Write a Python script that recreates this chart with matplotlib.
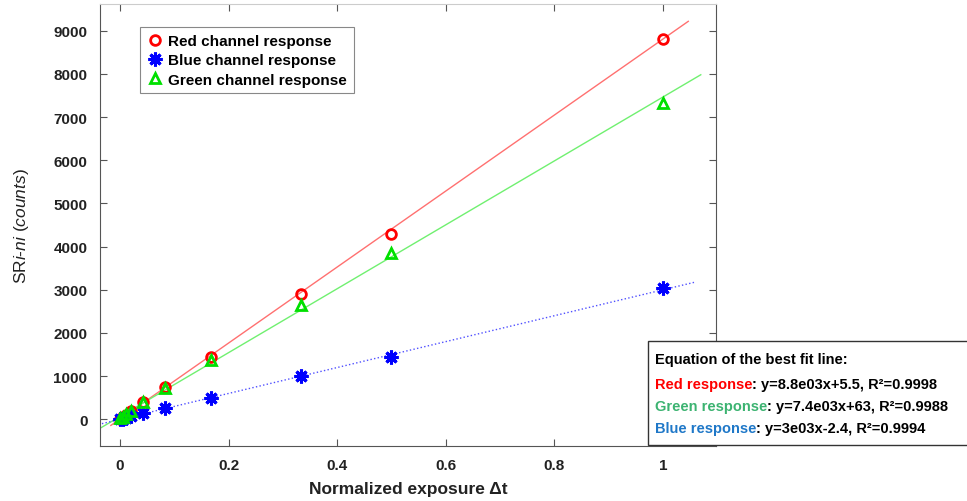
import matplotlib

matplotlib.use("Agg")
import matplotlib.pyplot as plt  # noqa: E402
import numpy as np  # noqa: E402
from matplotlib.patches import Rectangle  # noqa: E402

plt.rcParams["font.family"] = ["Liberation Sans", "DejaVu Sans"]
plt.rcParams["mathtext.fontset"] = "custom"
plt.rcParams["mathtext.rm"] = "Liberation Sans"
plt.rcParams["mathtext.it"] = "Liberation Sans:italic"

# normalized exposure values
exposure = [0, 1 / 192, 1 / 96, 1 / 48, 1 / 24, 1 / 12, 1 / 6, 1 / 3, 1 / 2, 1]
red_counts = [10, 50, 100, 200, 400, 750, 1450, 2900, 4280, 8820]
green_counts = [30, 60, 110, 190, 390, 720, 1380, 2640, 3840, 7330]
blue_counts = [0, 15, 30, 70, 140, 250, 490, 1010, 1440, 3030]

# best fit lines: slope, intercept, x start, x end
red_fit = (8.8e3, 5.5, -0.017, 1.047)
green_fit = (7.4e3, 63, -0.04, 1.07)
blue_fit = (3.0e3, -2.4, -0.04, 1.06)

fig = plt.figure(figsize=(9.67, 5.02), dpi=100)
ax = fig.add_axes([0.1034, 0.1096, 0.637, 0.8804])

for fit, col, ls in [(red_fit, "#ff7070", "-"), (green_fit, "#70f070", "-"),
                     (blue_fit, "#5050ff", ":")]:
    xs = np.array([fit[2], fit[3]])
    ax.plot(xs, fit[0] * xs + fit[1], color=col, lw=1.0, ls=ls, zorder=2)

ax.plot(exposure, red_counts, "o", ms=7, mfc="none", mec="#ff0000", mew=2,
        label="Red channel response", zorder=3)
ax.plot(exposure, blue_counts, ls="none", marker=(8, 2, 0), ms=10,
        mec="#0000ff", mew=2.2, label="Blue channel response", zorder=3)
ax.plot(exposure, green_counts, "^", ms=7, mfc="none", mec="#00e000", mew=2,
        label="Green channel response", zorder=4)

ax.set_xlim(-0.037, 1.098)
ax.set_ylim(-620, 9620)
ax.set_xticks([0, 0.2, 0.4, 0.6, 0.8, 1])
ax.set_xticklabels(["0", "0.2", "0.4", "0.6", "0.8", "1"])
ax.set_yticks(range(0, 9001, 1000))
ax.tick_params(direction="in", top=True, right=True, length=5, width=0.8,
               colors="#555555", labelcolor="#222222", labelsize=11, pad=9)
for lab in ax.get_xticklabels() + ax.get_yticklabels():
    lab.set_fontweight("bold")
for sp in ["left", "bottom", "right"]:
    ax.spines[sp].set_color("#555555")
ax.spines["top"].set_color("#cccccc")

ax.set_xlabel("Normalized exposure Δt", fontsize=12.5, fontweight="bold",
              color="#222222", labelpad=6)
ax.set_ylabel(r"SR$\it{i}$-$\it{ni}$ $\it{(counts)}$", fontsize=12.5,
              color="#222222", labelpad=16)

leg = ax.legend(loc="upper left", bbox_to_anchor=(0.065, 0.948),
                borderaxespad=0, prop={"weight": "bold", "size": 11},
                handletextpad=0.4, handlelength=1.0, borderpad=0.45,
                labelspacing=0.35, fancybox=False, edgecolor="#888888",
                framealpha=1)
leg.get_frame().set_linewidth(0.8)

# equation box at the lower right
fig.patches.append(Rectangle((0.670, 0.112), 0.34, 0.207,
                             transform=fig.transFigure, facecolor="white",
                             edgecolor="#333333", lw=1.0, zorder=5))
fs = 10.5
x0 = 0.677
fig.text(x0, 0.275, "Equation of the best fit line:", fontsize=fs,
         fontweight="bold", color="black", va="baseline", zorder=6)
rows = [("Red response", "#ff0000", ": y=8.8e03x+5.5, R²=0.9998", 0.225),
        ("Green response", "#3cb371", ": y=7.4e03x+63, R²=0.9988", 0.181),
        ("Blue response", "#1f78c8", ": y=3e03x-2.4, R²=0.9994", 0.137)]
renderer = fig.canvas.get_renderer()
for name, col, rest, yy in rows:
    t = fig.text(x0, yy, name, fontsize=fs, fontweight="bold", color=col,
                 va="baseline", zorder=6)
    w = t.get_window_extent(renderer).width / fig.bbox.width
    fig.text(x0 + w, yy, rest, fontsize=fs, fontweight="bold",
             color="black", va="baseline", zorder=6)

fig.savefig("out.png", dpi=100)
